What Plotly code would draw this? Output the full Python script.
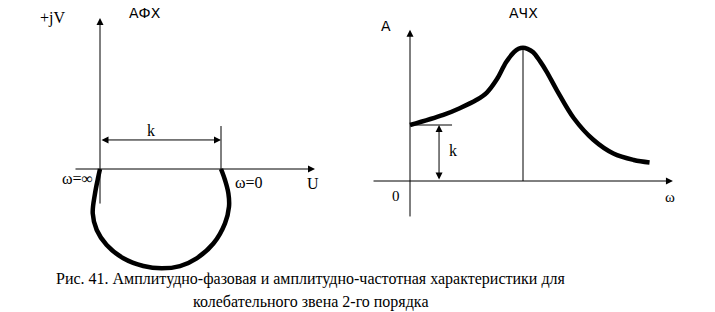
import plotly.graph_objects as go

# ---- АФХ (left) data, units where k = 1 ----
afx_u = [0, -0.014, -0.041, -0.060, -0.027, 0.055, 0.193, 0.358, 0.510, 0.661, 0.799, 0.937, 1.033, 1.066, 1.061, 1.033, 1.0]
afx_v = [0, -0.064, -0.201, -0.366, -0.504, -0.628, -0.738, -0.802, -0.821, -0.802, -0.738, -0.616, -0.449, -0.312, -0.201, -0.091, 0]
afx_k = 1.0

# ---- АЧХ (right) data, omega normalised to resonance, A in units of k ----
ach_w = [0, 0.295, 0.44, 0.59, 0.68, 0.77, 0.85, 0.92, 0.96, 1.0, 1.04, 1.09, 1.15, 1.21, 1.30, 1.45, 1.62, 1.80, 1.98, 2.12]
ach_a = [1.0, 1.18, 1.30, 1.45, 1.58, 1.82, 2.12, 2.30, 2.36, 2.38, 2.36, 2.30, 2.14, 1.95, 1.62, 1.12, 0.74, 0.49, 0.375, 0.33]
ach_k = 1.0
ach_res = 1.0

caption = ["Рис. 41. Амплитудно-фазовая и амплитудно-частотная характеристики для",
           "колебательного звена 2-го порядка"]

SERIF = "Liberation Serif, Times New Roman, serif"
SANS = "DejaVu Sans, Arial, sans-serif"

fig = go.Figure()
fig.add_trace(go.Scatter(x=afx_u, y=afx_v, mode="lines", line=dict(color="black", width=4.5, shape="spline"),
                         xaxis="x", yaxis="y", hoverinfo="skip"))
fig.add_trace(go.Scatter(x=ach_w, y=ach_a, mode="lines", line=dict(color="black", width=4.5, shape="spline"),
                         xaxis="x2", yaxis="y2", hoverinfo="skip"))

shapes = []
ann = []

def line(xr, yr, x0, y0, x1, y1, w=1):
    shapes.append(dict(type="line", xref=xr, yref=yr, x0=x0, y0=y0, x1=x1, y1=y1,
                       line=dict(color="black", width=w)))

def arrow(xr, yr, x, y, ax, ay, side="end"):
    ann.append(dict(xref=xr, yref=yr, axref=xr, ayref=yr, x=x, y=y, ax=ax, ay=ay, text="",
                    showarrow=True, arrowhead=2, arrowsize=1.4, arrowwidth=1, arrowcolor="black",
                    arrowside=side, standoff=0, startstandoff=0))

def text(xr, yr, x, y, s, font, size):
    ann.append(dict(xref=xr, yref=yr, x=x, y=y, text=s, showarrow=False,
                    font=dict(family=font, size=size, color="black"), xanchor="center", yanchor="middle"))

# left axes
arrow("x", "y", 0, 1.248, 0, -0.298)
arrow("x", "y", 1.777, 0, -0.215, 0)
line("x", "y", afx_k, 0, afx_k, 0.355)
arrow("x", "y", afx_k, 0.240, 0, 0.240, side="end+start")
text("x", "y", 0.42, 0.315, "k", SERIF, 16)
text("x", "y", -0.39, 1.245, "+jV", SERIF, 16)
text("x", "y", 0.375, 1.29, "АФХ", SANS, 14)
text("x", "y", -0.19, -0.08, "ω=∞", SERIF, 16)
text("x", "y", 1.23, -0.11, "ω=0", SERIF, 16)
text("x", "y", 1.76, -0.12, "U", SERIF, 16)

# right axes
arrow("x2", "y2", 0, 2.70, 0, -0.66)
arrow("x2", "y2", 2.327, 0, -0.336, 0)
line("x2", "y2", ach_res, 0, ach_res, 2.38)
line("x2", "y2", 0, ach_k, 0.372, ach_k)
arrow("x2", "y2", 0.257, ach_k, 0.257, 0, side="end+start")
text("x2", "y2", 0.38, 0.54, "k", SERIF, 16)
text("x2", "y2", -0.124, -0.27, "0", SERIF, 15)
text("x2", "y2", 2.30, -0.29, "ω", SERIF, 15)
text("x2", "y2", -0.212, 2.77, "A", SANS, 14)
text("x2", "y2", 1.0, 3.0, "АЧХ", SANS, 14)

# caption
ann.append(dict(xref="paper", yref="paper", x=311 / 715, y=1 - 279 / 312, text=caption[0], showarrow=False,
                font=dict(family=SERIF, size=16, color="black"), xanchor="center", yanchor="middle"))
ann.append(dict(xref="paper", yref="paper", x=311 / 715, y=1 - 302 / 312, text=caption[1], showarrow=False,
                font=dict(family=SERIF, size=16, color="black"), xanchor="center", yanchor="middle"))

W, H = 715, 312
# pixel mapping: left U=(px-100)/121, V=(169-py)/121 ; right w=(px-410)/113, A=(181-py)/56
lx0, lx1 = 0, 343.2
rx0, rx1 = 357.5, 715
fig.update_layout(
    width=W, height=H, margin=dict(l=0, r=0, t=0, b=0), autosize=False,
    paper_bgcolor="white", plot_bgcolor="rgba(0,0,0,0)", showlegend=False,
    xaxis=dict(domain=[lx0 / W, lx1 / W], range=[(lx0 - 100) / 121, (lx1 - 100) / 121], visible=False),
    yaxis=dict(domain=[0, 1], range=[(169 - H) / 121, 169 / 121], visible=False),
    xaxis2=dict(domain=[rx0 / W, rx1 / W], range=[(rx0 - 410) / 113, (rx1 - 410) / 113], visible=False),
    yaxis2=dict(domain=[0, 1], range=[(181 - H) / 56, 181 / 56], visible=False, anchor="x2"),
    shapes=shapes, annotations=ann,
)
fig.write_html("out.html", config={"displayModeBar": False})
